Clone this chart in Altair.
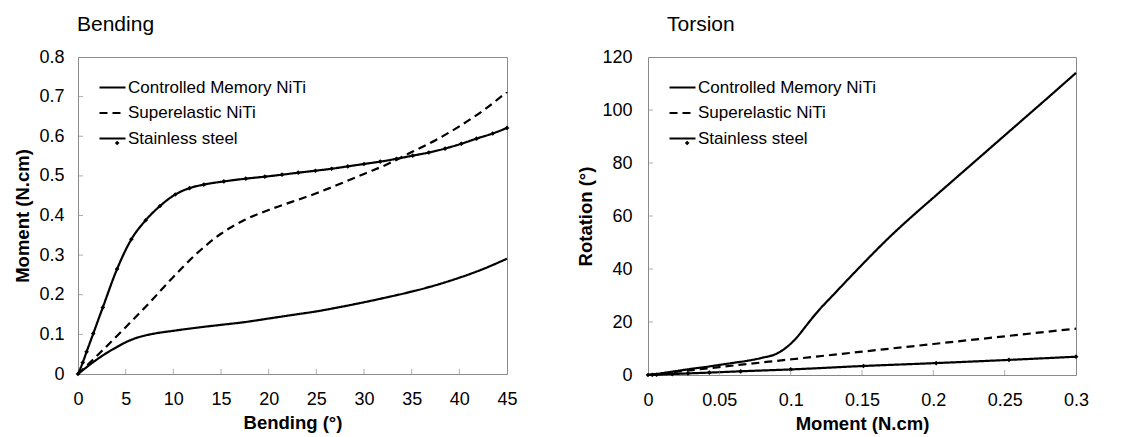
import altair as alt
import pandas as pd

SERIES = ["Controlled Memory NiTi", "Superelastic NiTi", "Stainless steel"]
FONT = "Liberation Sans"

# ---- Bending panel data (Bending ° vs Moment N.cm) ----
bend_cm_x = [0, 1, 2, 3, 4, 5, 6, 7, 8, 10, 12.5, 15, 17.5, 20, 22.5, 25, 27.5, 30, 32.5, 35, 37.5, 40, 42.5, 45]
bend_cm_y = [0, 0.019, 0.037, 0.053, 0.067, 0.08, 0.09, 0.097, 0.102, 0.109, 0.117, 0.124, 0.131, 0.14,
             0.149, 0.158, 0.169, 0.181, 0.194, 0.208, 0.224, 0.243, 0.265, 0.291]
bend_se_x = [0, 2.5, 5, 7.5, 10, 12.5, 15, 17.5, 20, 22.5, 25, 27.5, 30, 32.5, 35, 37.5, 40, 42.5, 45]
bend_se_y = [0, 0.058, 0.118, 0.18, 0.245, 0.305, 0.354, 0.389, 0.414, 0.435, 0.456, 0.48, 0.505, 0.53,
             0.56, 0.59, 0.625, 0.665, 0.712]
bend_ss_x = [0, 0.5, 0.9, 1.6, 2.6, 4.1, 5.6, 7.1, 8.6, 10.2, 11.7, 13.2, 15.3, 17.6, 19.6, 21.4, 23.1,
             24.9, 26.6, 28.3, 30.0, 31.7, 33.4, 35.1, 36.8, 38.5, 40.2, 41.8, 43.5, 45.0]
bend_ss_y = [0, 0.029, 0.056, 0.102, 0.168, 0.265, 0.340, 0.388, 0.424, 0.453, 0.469, 0.478, 0.486,
             0.493, 0.498, 0.503, 0.508, 0.513, 0.518, 0.524, 0.530, 0.536, 0.543, 0.551, 0.559, 0.569,
             0.581, 0.594, 0.607, 0.621]

# ---- Torsion panel data (Moment N.cm vs Rotation °) ----
tor_cm_x = [0, 0.01, 0.02, 0.03, 0.04, 0.05, 0.06, 0.07, 0.08, 0.09, 0.095, 0.1, 0.105, 0.11, 0.115,
            0.12, 0.13, 0.14, 0.15, 0.16, 0.17, 0.18, 0.19, 0.2, 0.22, 0.24, 0.26, 0.28, 0.3]
tor_cm_y = [0, 0.7, 1.5, 2.3, 3.0, 3.8, 4.6, 5.4, 6.5, 8.0, 9.6, 11.8, 14.6, 18.0, 21.4, 24.6, 30.3,
            36.0, 41.6, 47.1, 52.4, 57.4, 62.2, 66.9, 76.3, 85.7, 95.1, 104.5, 114.0]
tor_se_x = [0, 0.025, 0.05, 0.1, 0.15, 0.2, 0.25, 0.3]
tor_se_y = [0, 1.5, 3.0, 5.9, 8.8, 11.7, 14.6, 17.5]
tor_ss_x = [0, 0.003, 0.006, 0.017, 0.028, 0.043, 0.065, 0.1, 0.151, 0.202, 0.253, 0.3]
tor_ss_y = [0, 0.05, 0.1, 0.35, 0.6, 0.9, 1.4, 2.1, 3.4, 4.5, 5.7, 6.9]

bend_x_ticks = [0, 5, 10, 15, 20, 25, 30, 35, 40, 45]
bend_y_ticks = [0, 0.1, 0.2, 0.3, 0.4, 0.5, 0.6, 0.7, 0.8]
tor_x_ticks = [0, 0.05, 0.1, 0.15, 0.2, 0.25, 0.3]
tor_y_ticks = [0, 20, 40, 60, 80, 100, 120]

GRAY = "#8a8a8a"
LEG_X, LEG_Y, LEG_SYM, LEG_ROWPAD, LEG_FONT = 20, 16, 26, 2.5, 17
MARK_SIZE = 22


def frame(xs, ys, name):
    return pd.DataFrame({"x": xs, "y": ys, "s": name})


def panel(cm, se, ss, xt, yt, xtitle, ytitle, title, title_dx, w, h, ypad):
    data = pd.concat([frame(*cm, SERIES[0]), frame(*se, SERIES[1]), frame(*ss, SERIES[2])])
    xs = alt.Scale(domain=[xt[0], xt[-1]], nice=False, zero=False)
    ys = alt.Scale(domain=[yt[0], yt[-1]], nice=False, zero=False)
    common = dict(grid=False, ticks=False, tickSize=0, domain=False, labelFont=FONT,
                  labelFontSize=18, labelColor="black", titleFont=FONT, titleFontSize=18.5,
                  titleFontWeight="bold", titleColor="black", labelFlush=False, format="~r",
                  labelOverlap=False)
    xax = alt.Axis(values=xt, title=xtitle, labelPadding=16, titlePadding=5, **common)
    yax = alt.Axis(values=yt, title=ytitle, labelPadding=ypad, titlePadding=6, **common)
    base = alt.Chart(data)
    lines = base.mark_line(color="black", interpolate="monotone").encode(
        x=alt.X("x:Q", scale=xs, axis=xax, title=xtitle),
        y=alt.Y("y:Q", scale=ys, axis=yax, title=ytitle),
        detail="s:N",
        strokeDash=alt.StrokeDash(
            "s:N", scale=alt.Scale(domain=SERIES, range=[[1, 0], [8, 5], [1, 0]]),
            legend=alt.Legend(title=None, orient="none", legendX=LEG_X, legendY=LEG_Y,
                              symbolType="stroke", symbolSize=LEG_SYM * LEG_SYM,
                              symbolStrokeColor="black", symbolStrokeWidth=2, labelFont=FONT,
                              labelFontSize=LEG_FONT, labelColor="black", labelLimit=400,
                              rowPadding=LEG_ROWPAD, labelOffset=1, padding=0)),
        strokeWidth=alt.StrokeWidth("s:N", scale=alt.Scale(domain=SERIES, range=[2.2, 2.2, 1.5]),
                                    legend=None),
    )
    # marker legend: one entry whose diamond sits on the middle of the third legend line
    half = MARK_SIZE ** 0.5 / 2
    row3 = LEG_Y + 2 * (LEG_SYM + LEG_ROWPAD) + LEG_SYM / 2
    marks = base.transform_filter(alt.datum.s == SERIES[2]).mark_point(
        filled=True, size=MARK_SIZE, color="black", opacity=1
    ).encode(
        x=alt.X("x:Q", axis=xax, title=xtitle),
        y=alt.Y("y:Q", axis=yax, title=ytitle),
        shape=alt.Shape("s:N", scale=alt.Scale(domain=[SERIES[2]], range=["diamond"]),
                        legend=alt.Legend(title=None, orient="none",
                                          legendX=LEG_X + LEG_SYM / 2 - half,
                                          legendY=row3 - LEG_FONT / 2,
                                          symbolSize=MARK_SIZE, symbolFillColor="black",
                                          symbolStrokeColor="black", symbolStrokeWidth=0,
                                          symbolOpacity=1, labelFontSize=LEG_FONT,
                                          labelExpr="''", padding=0)),
    )

    xticks = alt.Chart(pd.DataFrame({"x": xt[1:-1]})).mark_tick(
        orient="vertical", color=GRAY, size=5, thickness=1
    ).encode(x=alt.X("x:Q", axis=xax, title=xtitle), y=alt.value(h - 2.5))
    yticks = alt.Chart(pd.DataFrame({"y": yt[1:-1]})).mark_tick(
        orient="horizontal", color=GRAY, size=5, thickness=1
    ).encode(y=alt.Y("y:Q", axis=yax, title=ytitle), x=alt.value(2.5))

    return alt.layer(lines, marks, xticks, yticks).properties(
        width=w, height=h,
        title=alt.TitleParams(title, anchor="start", frame="group", font=FONT, fontSize=21,
                              fontWeight="normal", color="black", offset=13, dx=title_dx),
    )


left = panel((bend_cm_x, bend_cm_y), (bend_se_x, bend_se_y), (bend_ss_x, bend_ss_y),
             bend_x_ticks, bend_y_ticks, "Bending (°)", "Moment (N.cm)", "Bending", -1,
             429, 317, 14)
right = panel((tor_cm_x, tor_cm_y), (tor_se_x, tor_se_y), (tor_ss_x, tor_ss_y),
              tor_x_ticks, tor_y_ticks, "Moment (N.cm)", "Rotation (°)", "Torsion", 19,
              428, 318, 16)

chart = alt.hconcat(left, right, spacing=58).resolve_scale(
    strokeDash="independent", strokeWidth="independent", shape="independent",
    x="independent", y="independent"
).resolve_legend(strokeDash="independent", shape="independent").configure_view(
    stroke=GRAY, strokeWidth=1
).properties(padding=5, background="white")

chart.save("out.html", embed_options={"renderer": "svg", "actions": False})
